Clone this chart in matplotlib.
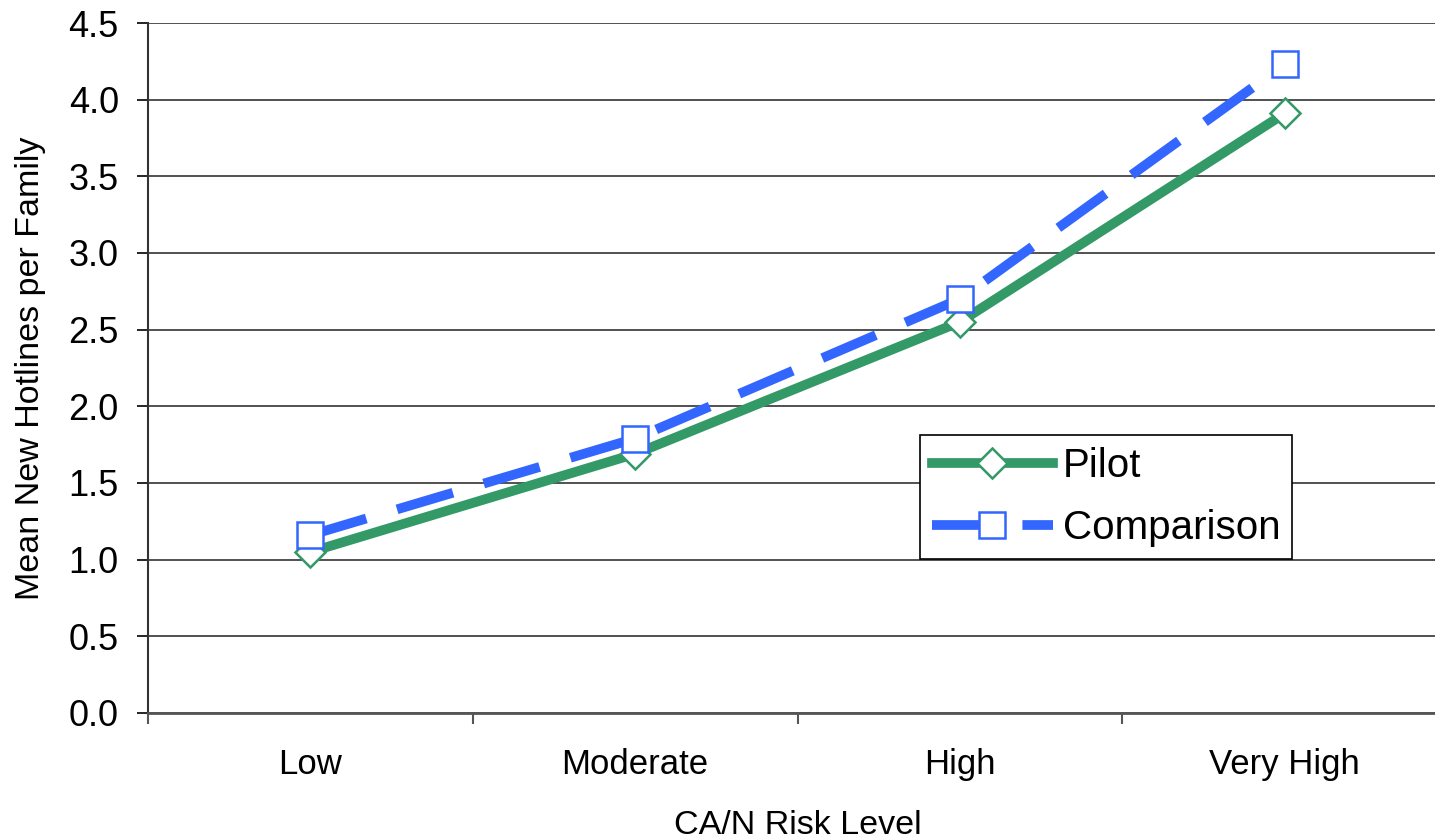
import matplotlib
matplotlib.use('Agg')
import matplotlib.pyplot as plt
from matplotlib.ticker import MultipleLocator, FixedLocator, NullFormatter, FixedFormatter

plt.rcParams['font.family'] = ['Liberation Sans', 'DejaVu Sans']

categories = ['Low', 'Moderate', 'High', 'Very High']
pilot = [1.05, 1.69, 2.55, 3.91]
comparison = [1.16, 1.79, 2.70, 4.23]

green = '#339966'
blue = '#3366FF'

fig = plt.figure(figsize=(14.35, 8.39), dpi=100)
ax = fig.add_axes([148 / 1435, 1 - 713 / 839, 1299 / 1435, 690 / 839])

x = list(range(len(categories)))
ax.plot(x, pilot, color=green, lw=7, marker='D', ms=15, mfc='white',
        mec=green, mew=1.8, label='Pilot', zorder=3)
ax.plot(x, comparison, color=blue, lw=7, dashes=(6, 3.3), dash_capstyle='butt',
        marker='s', ms=19, mfc='white', mec=blue, mew=1.8,
        label='Comparison', zorder=4)

ax.set_xlim(-0.5, len(categories) - 0.5)
ax.set_ylim(0, 4.5)
ax.yaxis.set_major_locator(MultipleLocator(0.5))
ax.yaxis.set_major_formatter(plt.FuncFormatter(lambda v, p: f'{v:.1f}'))
ax.grid(axis='y', color='#333333', lw=1.2)
ax.set_axisbelow(True)

ax.xaxis.set_major_locator(FixedLocator([i - 0.5 for i in range(len(categories))]))
ax.xaxis.set_major_formatter(NullFormatter())
ax.xaxis.set_minor_locator(FixedLocator(x))
ax.xaxis.set_minor_formatter(FixedFormatter(categories))
ax.tick_params(axis='x', which='minor', length=0, pad=25, labelsize=25)
ax.tick_params(axis='x', which='major', length=8, width=1.5, color='#555555', direction='out')
ax.tick_params(axis='y', length=8, width=1.2, direction='out', pad=13, labelsize=26)

for s in ['top', 'right']:
    ax.spines[s].set_visible(False)
ax.spines['left'].set_color('#333333')
ax.spines['left'].set_linewidth(1.5)
ax.spines['bottom'].set_color('#555555')
ax.spines['bottom'].set_linewidth(2)

ax.set_ylabel('Mean New Hotlines per Family', fontsize=24.5, labelpad=16)
ax.set_xlabel('CA/N Risk Level', fontsize=24.5, labelpad=21)

leg = ax.legend(loc='lower left', bbox_to_anchor=(0.594, 0.223), fontsize=29,
                frameon=True, fancybox=False, edgecolor='black', framealpha=1,
                handlelength=3.0, borderpad=0.3, labelspacing=0.6,
                handletextpad=0.25, borderaxespad=0)
leg.get_frame().set_linewidth(1.2)

fig.savefig('out.png', dpi=100)
